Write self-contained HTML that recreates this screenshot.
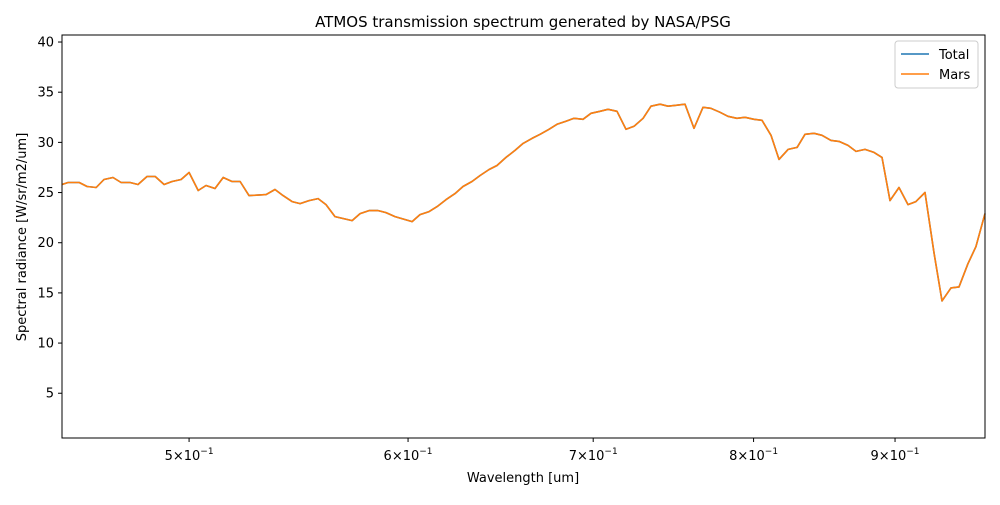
<!DOCTYPE html>
<html><head><meta charset="utf-8"><style>
body{margin:0;background:#fff;font-family:"Liberation Sans","DejaVu Sans",sans-serif}
svg text{font-family:"DejaVu Sans","Liberation Sans",sans-serif;fill:#000}
</style></head><body>
<svg id="chart" width="1000" height="500" viewBox="0 0 1000 500" xmlns="http://www.w3.org/2000/svg">
<rect x="0" y="0" width="1000" height="500" fill="#fff"/>
<text x="523" y="27" font-size="15" text-anchor="middle">ATMOS transmission spectrum generated by NASA/PSG</text>
<g id="grid"></g>
<g id="series"></g>
<rect x="62" y="35" width="923" height="403" fill="none" stroke="#000" stroke-width="1"/>
<g id="axes"></g>
<text x="523" y="482" font-size="13" text-anchor="middle">Wavelength [um]</text>
<text transform="translate(26,237) rotate(-90)" font-size="13" text-anchor="middle">Spectral radiance [W/sr/m2/um]</text>
<g>
<rect x="895" y="41" width="83" height="47" rx="3" fill="#fff" fill-opacity="0.8" stroke="#ccc"/>
<line x1="901" y1="54" x2="929" y2="54" stroke="#1f77b4" stroke-width="1.5"/>
<text x="939" y="59" font-size="13">Total</text>
<line x1="901" y1="74" x2="929" y2="74" stroke="#ff7f0e" stroke-width="1.5"/>
<text x="939" y="79" font-size="13">Mars</text>
</g>
</svg>
<script>
const wavelengths=[0.4498,0.4521,0.4563,0.4593,0.4628,0.4658,0.4693,0.4725,0.4760,0.4792,0.4828,0.4861,0.4897,0.4930,0.4967,0.5000,0.5038,0.5071,0.5109,0.5144,0.5182,0.5217,0.5256,0.5331,0.5371,0.5407,0.5448,0.5484,0.5525,0.5567,0.5604,0.5646,0.5727,0.5765,0.5808,0.5852,0.5891,0.5935,0.6020,0.6060,0.6106,0.6147,0.6193,0.6239,0.6281,0.6328,0.6371,0.6419,0.6461,0.6510,0.6559,0.6603,0.6652,0.6697,0.6747,0.6792,0.6843,0.6889,0.6941,0.6987,0.7040,0.7087,0.7140,0.7194,0.7242,0.7297,0.7345,0.7401,0.7450,0.7506,0.7556,0.7613,0.7670,0.7721,0.7780,0.7831,0.7890,0.7943,0.8003,0.8056,0.8117,0.8171,0.8233,0.8295,0.8350,0.8413,0.8469,0.8533,0.8590,0.8654,0.8712,0.8778,0.8844,0.8903,0.8962,0.9030,0.9098,0.9158,0.9227,0.9297,0.9359,0.9429,0.9492,0.9563,0.9627,0.9700];
const totalRadiance=[25.8,26.0,26.0,25.6,25.5,26.3,26.5,26.0,26.0,25.8,26.6,26.6,25.8,26.1,26.3,27.0,25.2,25.7,25.4,26.5,26.1,26.1,24.7,24.8,25.3,24.7,24.1,23.9,24.2,24.4,23.8,22.6,22.2,22.9,23.2,23.2,23.0,22.6,22.1,22.8,23.1,23.6,24.3,24.9,25.6,26.1,26.7,27.3,27.7,28.5,29.2,29.9,30.4,30.8,31.3,31.8,32.1,32.4,32.3,32.9,33.1,33.3,33.1,31.3,31.6,32.4,33.6,33.8,33.6,33.7,33.8,31.4,33.5,33.4,33.0,32.6,32.4,32.5,32.3,32.2,30.7,28.3,29.3,29.5,30.8,30.9,30.7,30.2,30.1,29.7,29.1,29.3,29.0,28.5,24.2,25.5,23.8,24.1,25.0,19.0,14.2,15.5,15.6,17.9,19.6,22.9];
const marsRadiance=totalRadiance.slice();
const yTicks=[5,10,15,20,25,30,35,40];
const xTicks=[0.5,0.6,0.7,0.8,0.9];
const xTickLabels=["5","6","7","8","9"];
const X0=62,X1=985,Y0=438,Y1=35,XMIN=0.4498,XMAX=0.97,YMIN=0.54,YMAX=40.7;
function xs(v){return X0+(Math.log(v)-Math.log(XMIN))/(Math.log(XMAX)-Math.log(XMIN))*(X1-X0);}
function ys(v){return Y0-(v-YMIN)/(YMAX-YMIN)*(Y0-Y1);}
const NS="http://www.w3.org/2000/svg";
const axes=document.getElementById('axes');
yTicks.forEach(t=>{
 const y=ys(t);
 const l=document.createElementNS(NS,'line');
 l.setAttribute('x1',X0-4);l.setAttribute('x2',X0);l.setAttribute('y1',y);l.setAttribute('y2',y);l.setAttribute('stroke','#000');
 
 
 axes.appendChild(l);
 const tx=document.createElementNS(NS,'text');
 tx.setAttribute('x',X0-8);tx.setAttribute('y',y+4.5);tx.setAttribute('font-size','13');tx.setAttribute('text-anchor','end');
 tx.textContent=t;
 
 
 axes.appendChild(tx);
});
xTicks.forEach((t,i)=>{
 const x=xs(t);
 const l=document.createElementNS(NS,'line');
 l.setAttribute('x1',x);l.setAttribute('x2',x);l.setAttribute('y1',Y0);l.setAttribute('y2',Y0+4);l.setAttribute('stroke','#000');
 
 
 axes.appendChild(l);
 const tx=document.createElementNS(NS,'text');
 tx.setAttribute('x',x);tx.setAttribute('y',Y0+22);tx.setAttribute('font-size','13');tx.setAttribute('text-anchor','middle');
 tx.innerHTML=xTickLabels[i]+'×10<tspan dy="-6" font-size="9">−1</tspan>';
 
 
 axes.appendChild(tx);
});
const series=document.getElementById('series');
function drawLine(vals,color,name){
 const p=document.createElementNS(NS,'polyline');
 p.setAttribute('points',vals.map((v,i)=>xs(wavelengths[i]).toFixed(1)+','+ys(v).toFixed(1)).join(' '));
 p.setAttribute('fill','none');p.setAttribute('stroke',color);p.setAttribute('stroke-width','1.6');p.setAttribute('stroke-linejoin','round');
 
 
 series.appendChild(p);
}
drawLine(totalRadiance,'#1f77b4','total-line');
drawLine(marsRadiance,'#ff7f0e','mars-line');
</script>
</body></html>
